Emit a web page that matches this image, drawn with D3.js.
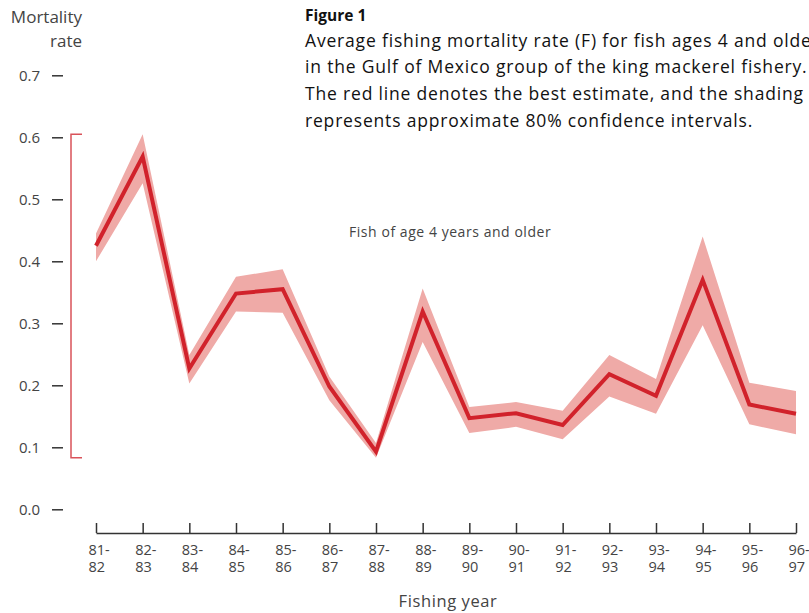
<!DOCTYPE html>
<html>
<head>
<meta charset="utf-8">
<script src="https://cdn.jsdelivr.net/npm/d3@7"></script>
<style>
  html, body { margin: 0; padding: 0; background: #fff; }
  svg { display: block; font-family: "Open Sans", "Noto Sans", sans-serif; }
</style>
</head>
<body>
<svg id="chart" width="809" height="613"></svg>
<script>
// Fishing years (start-end pairs) and average F for ages 4+
const yearStart = ["81","82","83","84","85","86","87","88","89","90","91","92","93","94","95","96"];
const yearEnd   = ["82","83","84","85","86","87","88","89","90","91","92","93","94","95","96","97"];
const estimate  = [0.425,0.569,0.227,0.348,0.355,0.198,0.093,0.319,0.147,0.155,0.136,0.218,0.183,0.370,0.169,0.154];
const upper80   = [0.445,0.605,0.249,0.375,0.387,0.214,0.107,0.356,0.165,0.173,0.159,0.249,0.210,0.440,0.204,0.191];
const lower80   = [0.400,0.526,0.203,0.319,0.317,0.176,0.083,0.270,0.123,0.133,0.113,0.182,0.154,0.297,0.137,0.121];
const yTicks    = [0.0,0.1,0.2,0.3,0.4,0.5,0.6,0.7];

const captionTitle = "Figure 1";
const captionLines = [
  "Average fishing mortality rate (F) for fish ages 4 and older",
  "in the Gulf of Mexico group of the king mackerel fishery.",
  "The red line denotes the best estimate, and the shading",
  "represents approximate 80% confidence intervals."
];

const svg = d3.select("#chart");
const ink = "#444";

const x = d3.scalePoint().domain(yearStart).range([96, 796]);
const y = d3.scaleLinear().domain([0, 0.7]).range([509.3, 75.3]);

const rows = yearStart.map((s, i) => ({ s, e: yearEnd[i], v: estimate[i], hi: upper80[i], lo: lower80[i] }));

// Confidence band
svg.append("path")
  .datum(rows)
  .attr("fill", "#efaaa7")
  .attr("d", d3.area().x(d => x(d.s)).y0(d => y(d.lo)).y1(d => y(d.hi)));

// Best estimate line
svg.append("path")
  .datum(rows)
  .attr("fill", "none")
  .attr("stroke", "#d1222b")
  .attr("stroke-width", 4)
  .attr("stroke-linejoin", "miter")
  .attr("d", d3.line().x(d => x(d.s)).y(d => y(d.v)));

// Y axis: free-standing dashes with labels
const yAxis = svg.append("g")
  .attr("transform", "translate(63,0)")
  .call(d3.axisLeft(y).tickValues(yTicks).tickFormat(d3.format(".1f")).tickSize(11).tickPadding(12));
yAxis.select(".domain").remove();
yAxis.selectAll(".tick line").attr("stroke", "#333").attr("stroke-width", 1.5);
yAxis.selectAll(".tick text")
  .attr("fill", ink).style("font-size", "15px").style("font-family", "'Open Sans', sans-serif");

// Range bracket spanning the full band
const bx = 71, stub = 11;
const bTop = y(d3.max(upper80)), bBot = y(d3.min(lower80));
svg.append("path")
  .attr("fill", "none")
  .attr("stroke", "#d9535a")
  .attr("stroke-width", 1.5)
  .attr("d", `M${bx + stub},${bTop}H${bx}V${bBot}H${bx + stub}`);

// X axis with upward ticks and two-line year labels
const xAxis = svg.append("g")
  .attr("transform", "translate(0,533)")
  .call(d3.axisBottom(x).tickSizeInner(-10).tickSizeOuter(0).tickFormat(""));
xAxis.select(".domain").attr("stroke", "#333").attr("stroke-width", 1.5);
xAxis.selectAll(".tick line").attr("stroke", "#333").attr("stroke-width", 1.5);
xAxis.selectAll(".tick text").remove();

const xLabels = svg.append("g").attr("fill", ink).style("font-size", "14.5px");
xLabels.selectAll("text.top").data(rows).join("text")
  .attr("class", "top")
  .attr("x", d => x(d.s) - 7.5).attr("y", 555)
  .text(d => d.s + "-");
xLabels.selectAll("text.bottom").data(rows).join("text")
  .attr("class", "bottom")
  .attr("x", d => x(d.s) - 7.5).attr("y", 572)
  .text(d => d.e);

svg.append("text")
  .attr("x", 448).attr("y", 607)
  .attr("text-anchor", "middle")
  .attr("fill", ink).style("font-size", "16.5px").style("letter-spacing", "0.6px")
  .text("Fishing year");

// Y axis title
svg.append("text").attr("x", 82).attr("y", 22.7).attr("text-anchor", "end")
  .attr("fill", ink).style("font-size", "17px").text("Mortality");
svg.append("text").attr("x", 82).attr("y", 46.7).attr("text-anchor", "end")
  .attr("fill", ink).style("font-size", "17px").text("rate");

// Series label
svg.append("text").attr("x", 349).attr("y", 236.5)
  .attr("fill", ink).style("font-size", "14px").style("letter-spacing", "0.55px")
  .text("Fish of age 4 years and older");

// Caption
svg.append("text").attr("x", 305).attr("y", 20.5)
  .attr("fill", "#111").style("font-size", "15.5px").style("font-weight", "bold").text(captionTitle);
svg.append("g").selectAll("text").data(captionLines).join("text")
  .attr("x", 305).attr("y", (d, i) => 46.7 + i * 26.7)
  .attr("fill", "#111").style("font-size", "17.5px").style("letter-spacing", "0.82px")
  .text(d => d);
</script>
</body>
</html>
